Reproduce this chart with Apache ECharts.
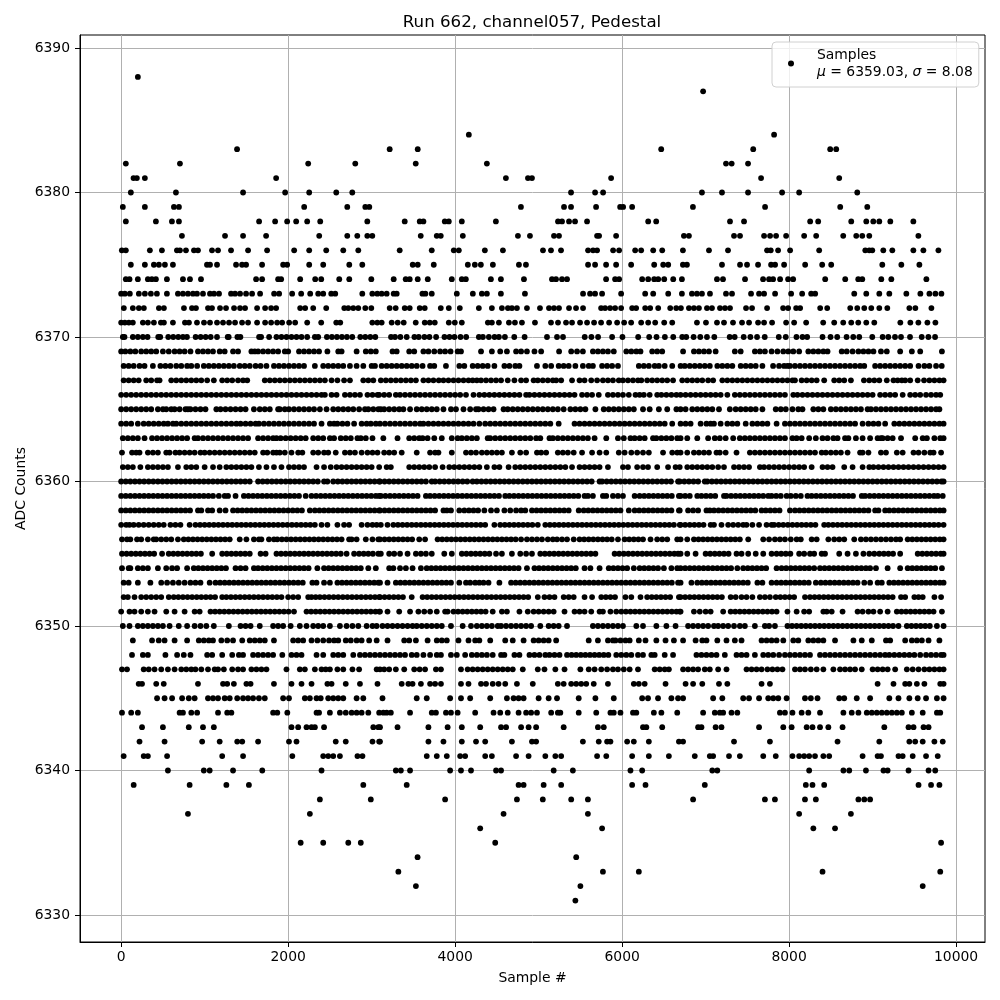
<!DOCTYPE html>
<html><head><meta charset="utf-8">
<style>html,body{margin:0;padding:0;background:#fff}#c{width:1000px;height:1000px}</style>
<script src="https://cdn.jsdelivr.net/npm/echarts@6/dist/echarts.min.js"></script>
</head><body><div id="c"></div>
<script>
// Sample numbers per ADC level. Where marks merge into a solid run,
// the positions inside the run are estimates of where the overlapping marks sit.
const xTicks = [0,2000,4000,6000,8000,10000];
const yTicks = [6330,6340,6350,6360,6370,6380,6390];
const adc6388 = [200];
const adc6387 = [6970];
const adc6384 = [4164,7820];
const adc6383 = [1388,3216,3552,6468,7570,8492,8564];
const adc6382 = [56,704,2240,2804,3528,4380,7244,7312,7508];
const adc6381 = [148,188,284,1856,4608,4872,4920,5868,7664,8600];
const adc6380 = [116,656,1460,1964,2252,2576,2768,5388,5676,5772,6956,7196,7508,7916,8120,8816];
const adc6379 = [20,284,632,692,2192,2708,2924,2972,4788,5304,5388,5688,5976,6012,6120,6848,7712,8612,8936];
const adc6378 = [56,416,608,692,1652,1844,1988,2096,2228,2384,2948,3396,3576,3620,3876,3924,4080,4488,5232,5280,5364,5436,5580,6312,6408,7292,7460,8252,8348,8744,8924,9008,9080,9212,9488];
const adc6377 = [728,1244,1460,1736,2372,2708,2828,2948,3008,3588,3780,3828,4092,4752,4896,5184,5244,5700,5724,5928,6740,6800,7340,7412,7700,7772,7844,7964,8180,8324,8648,8804,8876,8960,9548];
const adc6376 = [8,56,344,488,668,704,776,872,920,1088,1160,1316,1520,1748,2072,2252,2456,2660,2840,3336,3720,3984,4044,4356,4572,5052,5148,5268,5592,5652,5700,5892,5964,6156,6228,6372,6480,6728,7040,7268,7736,7780,7868,8012,8360,8912,8960,8996,9128,9236,9488,9608,9788];
const adc6375 = [116,284,392,452,524,620,1028,1064,1148,1376,1448,1496,1688,1940,1988,2252,2420,2732,2888,3492,3552,3744,4152,4236,4308,4452,4764,4848,5592,5676,5808,5928,6108,6384,6492,6552,6728,6776,7196,7412,7496,7628,7784,7832,7940,8192,8396,8504,9116,9344,9560];
const adc6374 = [56,100,200,320,368,416,548,740,824,956,1616,1688,1880,1916,2144,2324,2396,2612,2732,2996,3264,3408,3456,3552,3672,3960,4080,4128,4428,4548,4824,5160,5208,5280,5340,5808,5916,5964,6240,6312,6384,6432,6504,6612,6716,7136,7208,7472,7688,7760,7808,7892,7988,8048,8432,8672,8828,8876,9104,9224,9644];
const adc6373 = [0,44,104,212,284,356,428,548,680,740,800,860,908,980,1064,1112,1172,1316,1364,1424,1496,1568,1664,1832,1892,2048,2156,2264,2360,2420,2516,2564,2888,3008,3068,3120,3180,3264,3300,3608,3644,3720,4020,4212,4320,4380,4548,4836,5532,5616,5676,5760,5988,6276,6372,6552,6716,6836,6896,6956,7052,7244,7316,7544,7640,7700,7832,8024,8156,8264,8312,8780,8924,9080,9200,9404,9572,9680,9752,9824];
const adc6372 = [32,140,212,272,452,512,752,848,896,1040,1088,1184,1256,1352,1424,1484,1628,1724,1796,1856,2144,2204,2300,2456,2672,2720,2780,2840,2924,2996,3216,3288,3396,3456,3576,3636,3828,3924,4056,4284,4440,4560,4632,4680,4740,4860,5016,5124,5184,5244,5364,5448,5532,5748,5796,5856,5916,5988,6120,6168,6276,6336,6432,6576,6648,6704,6800,6860,6920,7016,7076,7172,7232,7292,7484,7556,7736,7928,7988,8084,8132,8372,8456,8732,8816,8900,8984,9080,9176,9440,9512,9704];
const adc6371 = [0,44,92,140,260,320,392,476,512,620,764,812,908,992,1064,1148,1220,1292,1364,1448,1520,1628,1724,1796,1868,1928,2012,2084,2228,2396,2576,2624,3008,3068,3120,3240,3312,3384,3528,3636,3696,3756,3924,3996,4080,4392,4440,4524,4644,4716,4800,4956,5148,5232,5328,5400,5496,5580,5664,5748,5844,5940,6024,6108,6228,6312,6396,6504,6600,6896,7004,7136,7220,7328,7436,7520,7628,7700,7796,7964,8060,8204,8408,8540,8648,8744,8828,8924,9020,9332,9452,9548,9656,9752];
const adc6370 = [20,40,140,200,260,316,444,468,564,624,684,740,788,892,952,1012,1072,1148,1276,1288,1392,1428,1652,1676,1772,1860,1920,1980,2040,2100,2160,2228,2320,2360,2464,2524,2584,2644,2704,2768,2864,2924,2984,3044,3232,3280,3344,3420,3512,3564,3632,3692,3772,3872,3932,3992,4064,4132,4284,4332,4404,4472,4524,4596,4708,4832,5100,5220,5292,5552,5632,5712,5880,6004,6192,6324,6412,6512,6612,6720,6768,6856,6936,7016,7104,7288,7348,7456,7536,7616,7708,7876,7960,8088,8160,8216,8400,8496,8576,8688,8768,8840,8996,9120,9188,9268,9340,9448,9588,9668,9748];
const adc6369 = [0,50,110,170,240,300,360,420,500,570,640,700,760,830,920,980,1040,1100,1180,1240,1340,1400,1560,1600,1640,1700,1760,1820,1880,1960,2000,2130,2190,2250,2310,2370,2470,2600,2640,2820,2930,2990,3050,3250,3300,3450,3510,3620,3680,3750,3820,3880,3945,4030,4070,4310,4440,4540,4620,4730,4790,4860,4950,5030,5245,5390,5460,5530,5650,5710,5770,5830,5900,6050,6110,6170,6220,6360,6420,6480,6730,6860,6920,6980,7040,7120,7350,7420,7590,7650,7710,7790,7860,7930,7990,8050,8120,8230,8290,8350,8410,8460,8630,8690,8760,8830,8890,8950,9010,9100,9170,9330,9470,9570,9830];
const adc6368 = [30,90,150,220,280,380,470,530,590,660,720,790,840,910,990,1050,1110,1170,1230,1290,1350,1420,1480,1540,1610,1670,1740,1830,1890,1950,2010,2070,2130,2190,2320,2420,2480,2540,2600,2660,2740,2820,2900,3000,3040,3120,3180,3240,3300,3360,3420,3480,3540,3610,3700,3750,3890,4050,4110,4210,4270,4330,4390,4470,4590,4650,4720,4770,4980,5080,5150,5240,5300,5360,5440,5530,5600,5650,5760,5820,5880,5950,6200,6260,6320,6390,6440,6510,6600,6700,6750,6810,6870,6930,6990,7050,7140,7200,7260,7320,7420,7480,7540,7600,7680,7808,7880,7940,7980,8010,8070,8130,8190,8250,8310,8370,8430,8490,8550,8610,8670,8730,8790,8850,8900,9030,9090,9150,9210,9270,9330,9390,9450,9550,9620,9680,9760,9828];
const adc6367 = [30,90,150,210,300,360,430,460,600,660,720,780,840,900,960,1030,1110,1210,1270,1330,1400,1460,1510,1720,1780,1840,1900,1960,2020,2080,2140,2200,2260,2320,2380,2440,2520,2590,2670,2740,2900,2960,3020,3110,3170,3230,3290,3350,3410,3470,3530,3620,3680,3740,3804,3860,3920,3980,4040,4100,4160,4210,4260,4310,4370,4430,4490,4550,4630,4710,4790,4850,4940,4990,5050,5110,5170,5210,5270,5400,5490,5550,5630,5700,5770,5830,5890,5960,6010,6070,6130,6190,6230,6300,6360,6420,6480,6540,6610,6720,6780,6840,6900,6960,7030,7090,7200,7260,7320,7380,7440,7500,7560,7620,7680,7740,7800,7860,7920,7980,8040,8070,8150,8210,8270,8330,8420,8540,8600,8660,8740,8896,8960,9020,9080,9170,9250,9300,9350,9390,9450,9540,9616,9680,9740,9800,9850];
const adc6366 = [0,60,120,180,240,300,360,420,480,540,600,660,720,780,840,900,960,1020,1080,1140,1200,1260,1320,1380,1440,1500,1560,1620,1680,1740,1800,1860,1920,1980,2040,2100,2160,2220,2280,2340,2400,2440,2520,2580,2680,2740,2800,2860,2950,3010,3070,3090,3150,3210,3290,3340,3400,3460,3520,3580,3640,3700,3760,3820,3880,3940,4000,4060,4130,4220,4290,4350,4410,4470,4530,4590,4650,4710,4770,4850,4890,4950,5010,5070,5130,5190,5250,5310,5370,5430,5520,5580,5640,5720,5830,5890,5950,6010,6080,6160,6210,6260,6330,6420,6470,6530,6590,6650,6700,6760,6820,6880,6940,7000,7060,7120,7180,7260,7350,7410,7470,7530,7590,7650,7710,7770,7830,7890,7950,8050,8100,8160,8220,8280,8340,8400,8460,8520,8580,8640,8700,8760,8820,8880,8940,9000,9090,9150,9210,9270,9360,9450,9510,9570,9640,9700,9760,9810];
const adc6365 = [0,60,120,180,240,300,360,440,500,540,600,640,700,770,800,830,890,950,1010,1140,1190,1250,1310,1370,1430,1490,1590,1660,1720,1780,1880,1900,1960,2010,2070,2130,2190,2250,2310,2380,2460,2540,2600,2660,2720,2780,2850,2920,2960,3020,3080,3110,3150,3210,3270,3330,3380,3460,3540,3600,3660,3720,3780,3860,3950,4010,4100,4180,4250,4280,4340,4400,4460,4580,4630,4690,4750,4810,4870,4930,4990,5050,5110,5170,5230,5300,5380,5440,5500,5560,5680,5780,5840,5900,5960,6020,6080,6140,6250,6330,6440,6540,6650,6700,6760,6840,6900,6960,7020,7080,7160,7290,7360,7420,7480,7540,7600,7680,7840,7900,7960,8040,8110,8160,8290,8350,8410,8500,8560,8620,8680,8740,8800,8860,8940,8980,9040,9100,9160,9220,9280,9340,9400,9460,9520,9580,9640,9700,9760,9800];
const adc6364 = [0,60,120,200,270,330,390,450,510,560,620,660,720,780,840,900,960,1020,1080,1140,1200,1260,1320,1380,1430,1490,1550,1610,1650,1710,1770,1830,1890,1950,2010,2070,2130,2190,2250,2310,2400,2500,2550,2590,2650,2710,2790,2880,2940,2990,3050,3100,3160,3220,3280,3340,3400,3460,3520,3580,3620,3680,3740,3800,3860,3920,3980,4040,4100,4160,4220,4290,4360,4420,4480,4540,4600,4660,4720,4780,4840,4900,4960,5020,5080,5140,5240,5430,5490,5550,5610,5670,5730,5790,5850,5910,5970,6030,6090,6150,6210,6270,6330,6390,6450,6510,6600,6700,6760,6820,6940,7010,7060,7100,7180,7260,7320,7380,7480,7560,7620,7680,7740,7850,7950,8010,8070,8130,8190,8250,8310,8370,8430,8490,8550,8610,8670,8730,8790,8880,8950,9010,9070,9150,9260,9320,9380,9440,9500,9560,9620,9680,9740,9800,9850];
const adc6363 = [20,80,140,200,280,370,430,490,550,610,670,730,790,880,920,980,1040,1100,1160,1220,1280,1340,1400,1460,1520,1640,1700,1760,1820,1860,1910,1970,2030,2090,2150,2210,2300,2360,2420,2500,2550,2630,2690,2750,2830,2870,2930,3010,3140,3310,3450,3510,3570,3610,3670,3750,3840,3960,4030,4080,4140,4200,4260,4390,4420,4480,4540,4600,4660,4720,4780,4840,4900,4970,5020,5130,5170,5230,5290,5350,5410,5470,5530,5590,5670,5810,5950,6020,6100,6150,6210,6270,6370,6410,6470,6530,6590,6660,6700,6780,6900,7030,7110,7170,7240,7330,7410,7470,7530,7590,7650,7710,7770,7830,7890,7950,8040,8090,8150,8240,8320,8400,8460,8530,8580,8670,8710,8800,8880,8970,9060,9100,9120,9180,9240,9340,9510,9600,9650,9740,9810,9850];
const adc6362 = [10,130,180,220,320,380,440,540,580,650,700,760,820,880,950,1000,1060,1120,1180,1240,1300,1360,1420,1480,1540,1600,1700,1750,1820,1860,1900,1960,2040,2120,2170,2300,2360,2430,2480,2570,2680,2740,2800,2880,2950,3010,3070,3150,3210,3270,3360,3540,3700,3760,3800,3960,4130,4190,4250,4320,4380,4440,4500,4560,4680,4780,4850,4980,5030,5090,5230,5290,5350,5420,5520,5640,5730,5810,5960,6030,6110,6180,6250,6320,6490,6600,6660,6700,6780,6860,6920,6980,7040,7130,7170,7240,7370,7530,7590,7650,7710,7770,7830,7890,7950,8010,8070,8130,8190,8250,8310,8390,8440,8500,8560,8620,8700,8850,8880,8950,9100,9160,9290,9360,9490,9550,9620,9690,9730,9820];
const adc6361 = [20,80,140,230,320,380,440,500,560,680,780,840,900,1000,1100,1180,1260,1320,1380,1440,1500,1560,1650,1740,1830,1920,2010,2070,2130,2190,2340,2430,2510,2580,2640,2700,2760,2820,2880,2940,3000,3090,3180,3230,3450,3510,3570,3630,3690,3760,3850,3930,3990,4050,4110,4170,4230,4290,4380,4470,4530,4640,4720,4780,4840,4900,4960,5020,5080,5140,5200,5260,5320,5400,5490,5550,5610,5670,5730,5830,6010,6070,6180,6250,6310,6420,6550,6640,6690,6780,6840,6900,6960,7020,7080,7150,7220,7340,7400,7460,7520,7650,7700,7760,7820,7880,7940,8000,8060,8120,8180,8270,8400,8460,8520,8660,8760,8880,8960,9010,9070,9130,9190,9250,9310,9370,9430,9490,9550,9610,9670,9730,9790,9850];
const adc6360 = [0,55,110,165,220,275,330,385,440,495,550,605,660,715,770,825,880,935,990,1045,1100,1155,1210,1265,1320,1375,1430,1485,1540,1640,1695,1750,1805,1860,1915,1970,2025,2080,2135,2190,2245,2300,2355,2430,2470,2540,2595,2650,2705,2760,2815,2870,2925,2980,3035,3090,3100,3155,3210,3265,3320,3375,3430,3485,3540,3595,3650,3720,3760,3815,3870,3925,3980,4035,4090,4145,4210,4260,4315,4370,4425,4480,4535,4590,4645,4700,4755,4810,4865,4920,4975,5030,5085,5140,5195,5250,5305,5360,5415,5470,5525,5580,5635,5730,5760,5815,5870,5925,5980,6035,6090,6145,6200,6255,6310,6365,6420,6475,6530,6585,6670,6690,6745,6800,6855,6910,6990,7020,7075,7130,7185,7240,7295,7350,7405,7460,7515,7570,7625,7680,7735,7790,7845,7900,7955,8010,8065,8120,8175,8230,8285,8340,8395,8450,8505,8560,8615,8670,8725,8780,8835,8890,8945,9000,9055,9110,9165,9220,9275,9330,9385,9440,9495,9550,9605,9660,9715,9770,9825,9850];
const adc6359 = [0,55,110,165,220,275,330,385,440,495,550,605,660,715,770,825,880,935,990,1045,1100,1170,1240,1280,1370,1470,1525,1580,1635,1690,1745,1800,1855,1910,1965,2020,2075,2130,2210,2280,2335,2390,2445,2500,2555,2610,2665,2720,2775,2830,2885,2940,2995,3050,3090,3110,3165,3220,3275,3330,3385,3440,3495,3550,3650,3700,3755,3810,3865,3920,3975,4030,4085,4140,4195,4250,4305,4360,4415,4470,4525,4600,4650,4705,4760,4815,4870,4925,4980,5035,5090,5145,5200,5255,5310,5365,5420,5475,5550,5590,5650,5770,5810,5890,5950,6010,6150,6210,6265,6320,6375,6430,6485,6540,6595,6680,6700,6755,6810,6900,6950,7005,7060,7115,7220,7250,7305,7360,7415,7470,7525,7580,7635,7690,7750,7790,7845,7900,7970,8020,8080,8140,8220,8270,8325,8380,8435,8490,8545,8600,8655,8710,8765,8870,8910,8965,9020,9075,9130,9185,9240,9295,9350,9405,9460,9515,9570,9625,9680,9735,9780,9840];
const adc6358 = [0,55,110,165,220,275,330,385,440,495,550,605,660,715,770,825,920,960,1040,1090,1180,1250,1340,1395,1450,1505,1560,1615,1670,1725,1780,1835,1890,1945,2000,2055,2110,2165,2260,2320,2375,2430,2485,2540,2595,2650,2705,2760,2815,2870,2925,2980,3035,3090,3100,3155,3210,3265,3320,3375,3430,3485,3540,3595,3650,3705,3760,3860,3900,3950,4050,4110,4165,4220,4275,4350,4430,4500,4590,4660,4730,4790,4840,4920,4975,5030,5085,5140,5195,5250,5305,5360,5480,5540,5595,5650,5705,5760,5815,5870,5925,5980,6080,6150,6205,6260,6315,6370,6425,6480,6535,6590,6680,6690,6790,6850,6910,7010,7050,7100,7155,7210,7265,7320,7375,7430,7485,7540,7595,7670,7720,7775,7830,7885,8010,8070,8125,8180,8235,8290,8345,8400,8455,8510,8565,8620,8675,8730,8785,8840,8895,8950,9030,9070,9150,9200,9255,9310,9365,9420,9475,9530,9585,9640,9695,9750,9805,9850];
const adc6357 = [0,60,100,150,210,270,330,390,450,510,590,650,710,820,890,945,1000,1055,1110,1165,1220,1275,1330,1385,1440,1495,1550,1605,1660,1715,1770,1825,1880,1935,1990,2045,2100,2155,2210,2265,2320,2400,2470,2590,2670,2730,2880,2950,3010,3060,3110,3190,3260,3315,3370,3425,3480,3535,3590,3645,3700,3755,3810,3865,3920,3975,4030,4085,4140,4195,4250,4305,4360,4470,4540,4595,4650,4705,4760,4815,4870,4925,4990,5080,5135,5190,5245,5300,5355,5410,5465,5520,5575,5630,5685,5740,5795,5850,5905,5960,6015,6070,6125,6180,6235,6290,6345,6400,6455,6510,6565,6620,6690,6700,6755,6810,6865,6920,6975,7060,7100,7190,7270,7330,7390,7450,7490,7560,7640,7730,7790,7820,7875,7930,7985,8040,8095,8150,8205,8260,8315,8420,8470,8525,8580,8635,8690,8745,8800,8855,8910,8965,9020,9075,9130,9185,9240,9295,9350,9405,9460,9515,9570,9625,9680,9735,9790,9850];
const adc6356 = [10,70,110,190,240,320,390,420,480,540,600,680,750,805,860,915,970,1025,1080,1135,1190,1245,1300,1420,1500,1590,1650,1680,1770,1830,1870,1925,1980,2035,2090,2145,2200,2255,2310,2365,2420,2475,2530,2585,2640,2730,2760,2820,2930,3010,3080,3100,3155,3210,3265,3320,3375,3430,3485,3570,3640,3790,3845,3900,3955,4010,4065,4120,4175,4230,4285,4340,4395,4450,4505,4560,4615,4670,4725,4790,4860,4920,4980,5040,5110,5170,5220,5280,5340,5420,5490,5545,5600,5655,5710,5765,5820,5875,5950,6030,6085,6140,6195,6250,6340,6420,6480,6540,6660,6700,6780,6860,6915,6970,7025,7080,7135,7190,7245,7300,7355,7410,7510,7690,7760,7830,7890,7950,8020,8090,8140,8270,8330,8470,8540,8600,8660,8780,8860,8920,8980,9040,9100,9160,9220,9280,9330,9420,9475,9530,9585,9640,9695,9750,9805,9850];
const adc6355 = [10,65,120,175,230,285,340,395,490,570,625,680,735,790,845,900,955,1090,1210,1265,1320,1375,1430,1485,1540,1670,1730,1860,1915,1970,2025,2080,2135,2190,2245,2300,2355,2410,2465,2520,2575,2630,2700,2790,2850,2905,2960,3015,3080,3110,3210,3270,3340,3430,3530,3590,3650,3720,3870,3960,4080,4135,4190,4245,4300,4355,4410,4490,4560,4680,4780,4850,4920,5020,5075,5130,5185,5240,5295,5350,5405,5460,5515,5570,5625,5680,5910,5965,6020,6075,6130,6185,6240,6295,6350,6405,6460,6515,6570,6625,6670,6700,6780,6880,7000,7055,7110,7165,7220,7275,7370,7430,7510,7600,7690,7790,7850,7905,7960,8015,8120,8180,8250,8300,8390,8430,8600,8700,8800,8890,8960,9020,9080,9135,9190,9245,9330,9540,9595,9650,9705,9760,9815,9850];
const adc6354 = [10,90,110,200,260,320,440,540,610,670,790,870,925,980,1035,1090,1145,1200,1255,1370,1430,1490,1590,1640,1695,1750,1805,1860,1915,1970,2025,2080,2135,2190,2245,2350,2430,2485,2540,2595,2650,2705,2760,2815,2870,2960,3050,3210,3260,3340,3410,3490,3590,3660,3715,3770,3825,3880,3935,3990,4045,4100,4155,4210,4265,4320,4375,4430,4485,4540,4595,4650,4705,4760,4860,4950,5005,5060,5115,5170,5225,5280,5335,5390,5445,5550,5620,5730,5840,5895,5950,6005,6060,6140,6210,6265,6320,6375,6430,6500,6590,6660,6700,6755,6810,6865,6920,6975,7030,7085,7140,7195,7250,7305,7380,7450,7505,7560,7615,7670,7725,7850,7910,7965,8020,8075,8130,8185,8240,8300,8370,8425,8480,8535,8590,8645,8700,8755,8810,8865,8920,8970,9040,9180,9330,9420,9475,9530,9585,9640,9695,9750,9830];
const adc6353 = [30,90,200,350,480,550,620,690,760,830,890,950,1060,1130,1185,1240,1295,1350,1405,1460,1515,1570,1625,1680,1735,1790,1845,1900,1955,2010,2065,2120,2175,2290,2340,2430,2500,2590,2645,2700,2755,2810,2865,2920,2975,3030,3080,3100,3190,3290,3345,3400,3455,3510,3565,3620,3675,3730,3785,3840,3895,3950,4050,4130,4180,4240,4290,4340,4400,4530,4670,4725,4780,4835,4890,4945,5000,5055,5110,5165,5220,5275,5330,5385,5440,5495,5550,5605,5660,5715,5770,5825,5880,5935,5990,6045,6100,6155,6210,6265,6320,6375,6430,6485,6540,6595,6670,6700,6830,6900,6955,7010,7065,7120,7175,7230,7285,7340,7395,7450,7505,7620,7680,7790,7850,7905,7960,8015,8070,8125,8180,8235,8320,8380,8435,8490,8545,8600,8655,8710,8765,8820,8900,8970,9060,9110,9200,9255,9310,9365,9420,9475,9530,9585,9640,9695,9750,9805,9850];
const adc6352 = [30,80,160,240,300,360,420,480,570,630,685,740,795,850,905,960,1015,1070,1125,1210,1260,1315,1370,1425,1480,1535,1590,1645,1700,1755,1810,1865,1920,2000,2060,2120,2240,2280,2330,2380,2435,2490,2545,2600,2655,2710,2765,2820,2875,2930,2985,3040,3090,3100,3155,3210,3265,3320,3375,3480,3610,3665,3720,3775,3830,3885,3940,3995,4050,4105,4160,4215,4270,4325,4380,4435,4490,4545,4600,4655,4710,4765,4820,4875,4990,5070,5130,5190,5300,5360,5420,5550,5640,5750,5805,5860,5915,6040,6110,6220,6300,6355,6410,6465,6520,6575,6680,6700,6755,6810,6865,6920,6975,7030,7085,7140,7195,7300,7360,7430,7490,7560,7650,7710,7770,7840,7895,7950,8005,8060,8190,8250,8305,8360,8415,8470,8525,8580,8635,8690,8745,8800,8855,8910,8965,9020,9075,9130,9185,9240,9340,9390,9500,9550,9600,9740,9820];
const adc6351 = [0,100,160,240,320,400,540,640,760,880,940,1070,1125,1180,1235,1290,1345,1400,1455,1510,1565,1620,1675,1730,1785,1840,1895,1950,2005,2070,2220,2275,2330,2385,2440,2495,2550,2605,2660,2715,2770,2825,2880,2935,2990,3045,3090,3100,3190,3330,3460,3560,3630,3700,3780,3880,3910,3980,4035,4090,4145,4200,4255,4310,4365,4450,4560,4620,4770,4870,4940,5000,5060,5120,5180,5310,5430,5490,5550,5630,5730,5770,5860,5930,5990,6045,6100,6155,6210,6265,6320,6375,6430,6485,6540,6595,6650,6690,6700,6860,6930,7000,7060,7210,7300,7355,7410,7465,7520,7575,7630,7685,7740,7795,7850,7980,8090,8180,8240,8410,8450,8510,8640,8820,8880,8950,9010,9090,9180,9290,9345,9400,9455,9510,9565,9620,9675,9730,9830];
const adc6350 = [20,100,200,260,320,380,440,500,580,690,790,880,950,1020,1110,1290,1430,1490,1550,1660,1820,1880,1940,2030,2140,2220,2300,2360,2420,2500,2620,2700,2770,2840,2940,3010,3060,3130,3190,3250,3310,3370,3430,3490,3540,3600,3660,3720,3780,3840,3950,4090,4190,4260,4320,4380,4440,4510,4550,4610,4670,4730,4790,4850,4910,5020,5120,5180,5240,5340,5650,5710,5770,5830,5890,5950,6010,6170,6250,6410,6530,6640,6790,6850,6910,6970,7030,7100,7150,7210,7270,7340,7410,7470,7590,7710,7760,7830,7980,8035,8090,8145,8200,8255,8310,8365,8420,8475,8530,8585,8640,8695,8750,8805,8860,8915,8970,9025,9080,9135,9190,9245,9310,9410,9465,9520,9575,9630,9685,9770,9850];
const adc6349 = [140,370,450,520,640,790,930,990,1050,1100,1200,1270,1340,1450,1540,1600,1660,1720,1830,2060,2120,2180,2280,2350,2420,2490,2550,2600,2690,2750,2820,2880,2970,3060,3190,3390,3450,3530,3670,3780,3840,3900,4040,4160,4240,4290,4420,4600,4690,4820,4940,5000,5060,5120,5210,5600,5710,5830,5890,5920,5980,6040,6090,6200,6280,6410,6520,6620,6730,6880,6960,7010,7140,7250,7350,7430,7670,7730,7790,7850,7930,8050,8110,8230,8290,8350,8410,8550,8770,8870,8990,9160,9210,9390,9470,9530,9590,9670,9800];
const adc6348 = [130,260,320,530,670,750,830,1030,1090,1210,1330,1410,1460,1580,1640,1700,1760,1820,1930,2040,2100,2160,2340,2420,2540,2600,2660,2780,2860,2920,2980,3040,3100,3160,3220,3280,3340,3400,3480,3540,3620,3700,3780,3830,3950,4020,4120,4200,4260,4320,4380,4450,4550,4590,4710,4770,4890,4950,5010,5080,5130,5190,5250,5340,5395,5450,5505,5560,5615,5670,5725,5780,5835,5930,5990,6050,6110,6190,6250,6350,6390,6510,6610,6890,6950,7010,7070,7130,7230,7370,7430,7490,7590,7690,7750,7810,7880,7950,8010,8070,8130,8190,8250,8370,8430,8490,8550,8610,8670,8730,8790,8850,8910,8970,9030,9090,9150,9200,9260,9320,9380,9440,9500,9570,9640,9700,9760,9820,9850];
const adc6347 = [10,70,270,330,400,480,560,640,720,780,840,890,960,1040,1120,1160,1230,1330,1400,1460,1560,1620,1680,1740,1980,2140,2200,2320,2400,2450,2500,2590,2660,2770,2850,3060,3100,3150,3210,3290,3390,3510,3575,3640,3770,3830,4070,4150,4210,4270,4330,4390,4450,4510,4570,4630,4690,4810,4990,5070,5200,5310,5500,5600,5670,5750,5820,5890,5950,6020,6090,6190,6390,6450,6510,6560,6730,6790,6850,6910,6990,7050,7150,7250,7490,7550,7610,7670,7740,7800,7860,7920,8070,8130,8190,8260,8330,8410,8530,8610,8670,8730,8790,8870,9000,9060,9120,9180,9270,9410,9480,9550,9620,9680,9740,9800,9850];
const adc6346 = [210,250,420,510,920,1220,1270,1350,1500,1550,1830,2040,2160,2280,2470,2520,2690,2860,3070,3360,3440,3490,3590,3700,3760,3830,4070,4160,4310,4370,4450,4520,4600,4740,4930,5230,5300,5390,5450,5510,5570,5660,5830,6140,6200,6270,6520,6760,6850,6960,7160,7260,7670,7770,9060,9250,9390,9440,9530,9620,9810,9850];
const adc6345 = [430,520,610,730,810,880,1040,1100,1160,1240,1300,1390,1460,1520,1580,1650,1720,1940,2010,2200,2260,2340,2390,2480,2540,2600,2660,2820,2900,3130,3540,3660,3940,4070,4180,4420,4620,4700,4760,4820,5000,5120,5220,5480,5680,5900,6240,6310,6430,6590,6670,6730,7090,7200,7450,7520,7640,7750,7810,7870,7970,8190,8260,8340,8600,8660,8810,8970,9200,9310,9440,9540,9640,9770,9850];
const adc6344 = [10,120,200,700,740,840,910,1160,1270,1320,1820,1870,1990,2340,2370,2500,2620,2690,2760,2820,2880,2960,3090,3140,3180,3230,3460,3720,3770,3890,3950,4030,4240,4460,4540,4630,4760,4850,4910,4980,5150,5230,5260,5480,5690,5860,5900,5980,6130,6170,6380,6470,6660,6970,7110,7170,7210,7310,7380,7890,7950,8040,8150,8230,8370,8650,8750,8830,8930,8990,9050,9110,9170,9230,9290,9350,9470,9600,9770,9810];
const adc6343 = [250,500,810,980,1110,2040,2120,2220,2280,2320,2430,3020,3080,3100,3310,3680,3910,4080,4300,4550,4610,4790,4880,4970,5300,5710,5780,6250,6290,6480,6910,6950,7120,7190,7640,7930,8030,8210,8280,8370,8470,8640,9140,9430,9490,9610,9670];
const adc6342 = [220,520,970,1180,1390,1450,1640,2010,2100,2570,2690,3010,3090,3100,3680,3860,4080,4250,4360,4680,4920,4970,5530,5720,5820,5860,6060,6140,6320,6680,6730,7340,7770,8580,9080,9440,9510,9600,9740,9840];
const adc6341 = [30,270,320,550,1210,1460,2050,2420,2480,2540,2620,2830,2890,3660,3780,3900,4060,4120,4360,4440,4730,4880,5080,5200,5270,5700,5810,6120,6320,6560,6870,7050,7090,7280,7410,7690,7840,8040,8120,8180,8240,8310,8410,8480,8880,9060,9100,9310,9360,9480,9640,9780];
const adc6340 = [560,990,1060,1340,1690,2400,3290,3350,3460,3940,4070,4190,4490,4550,5180,5410,6100,6240,7080,7140,8240,8650,8720,8920,9130,9180,9430,9670,9750];
const adc6339 = [150,820,1260,1530,2900,3420,4760,4820,5060,5270,6120,6280,6990,8200,8280,8420,9550,9700,9800];
const adc6338 = [2380,2990,3880,4740,5050,5390,5590,6850,7710,7830,8190,8320,8830,8900,8970];
const adc6337 = [800,2260,4580,5590,8120,8740];
const adc6336 = [4300,5760,8290,8550];
const adc6335 = [2150,2420,2720,2870,4480,9820];
const adc6334 = [3550,5450];
const adc6333 = [3320,5770,6200,8400,9810];
const adc6332 = [3530,5500,9600];
const adc6331 = [5440];

const rows = [[6388,adc6388],[6387,adc6387],[6384,adc6384],[6383,adc6383],[6382,adc6382],[6381,adc6381],[6380,adc6380],[6379,adc6379],[6378,adc6378],[6377,adc6377],[6376,adc6376],[6375,adc6375],[6374,adc6374],[6373,adc6373],[6372,adc6372],[6371,adc6371],[6370,adc6370],[6369,adc6369],[6368,adc6368],[6367,adc6367],[6366,adc6366],[6365,adc6365],[6364,adc6364],[6363,adc6363],[6362,adc6362],[6361,adc6361],[6360,adc6360],[6359,adc6359],[6358,adc6358],[6357,adc6357],[6356,adc6356],[6355,adc6355],[6354,adc6354],[6353,adc6353],[6352,adc6352],[6351,adc6351],[6350,adc6350],[6349,adc6349],[6348,adc6348],[6347,adc6347],[6346,adc6346],[6345,adc6345],[6344,adc6344],[6343,adc6343],[6342,adc6342],[6341,adc6341],[6340,adc6340],[6339,adc6339],[6338,adc6338],[6337,adc6337],[6336,adc6336],[6335,adc6335],[6334,adc6334],[6333,adc6333],[6332,adc6332],[6331,adc6331]];
const points = [];
rows.forEach(function(r){ r[1].forEach(function(x){ points.push([x, r[0]]); }); });

const FONT = '"DejaVu Sans"';
const chart = echarts.init(document.getElementById('c'), null, {renderer:'canvas'});
const axisCommon = {
  type:'value', scale:true, nameLocation:'middle', nameMoveOverlap:false,
  nameTextStyle:{fontFamily:FONT,fontSize:13.9,color:'#000'},
  axisLine:{show:true,onZero:false,lineStyle:{color:'#000',width:1}},
  axisTick:{show:true,inside:false,length:5,lineStyle:{color:'#000',width:1}},
  axisLabel:{show:true,fontFamily:FONT,fontSize:13.9,color:'#000',hideOverlap:false,showMinLabel:true,showMaxLabel:true},
  splitLine:{show:true,lineStyle:{color:'#b0b0b0',width:1}}
};
function axis(extra, ticks, margin){
  const a = Object.assign({}, axisCommon, extra);
  a.axisTick = Object.assign({}, axisCommon.axisTick, {customValues:ticks});
  a.axisLabel = Object.assign({}, axisCommon.axisLabel, {margin:margin, customValues:ticks, formatter:function(v){return String(v);}});
  return a;
}
chart.setOption({
  animation:false,
  backgroundColor:'#fff',
  title:{text:'Run 662, channel057, Pedestal',left:527,top:9,textAlign:'center',
    textStyle:{fontFamily:FONT,fontSize:16.67,fontWeight:'normal',color:'#000'}},
  grid:{left:80,top:35,width:905,height:907,show:true,borderColor:'#000',borderWidth:1,containLabel:false},
  xAxis:axis({name:'Sample #',nameGap:29,min:-493,max:10346},xTicks,8),
  yAxis:axis({name:'ADC Counts',nameGap:52,nameRotate:90,min:6328.13,max:6390.9},yTicks,10),
  legend:{show:true,left:772,top:42,orient:'vertical',padding:[6,6,8,16],
    itemWidth:6,itemHeight:6,icon:'circle',
    backgroundColor:'rgba(255,255,255,0.8)',borderColor:'#d0d0d0',borderWidth:1,borderRadius:4,
    data:[{name:'Samples'}],
    formatter:function(){return '{s|}{t|Samples}\n{s|}{i|μ}{t| = 6359.03, }{i|σ}{t| = 8.08}';},
    textStyle:{fontFamily:FONT,fontSize:13.9,color:'#000',
      rich:{s:{width:18,lineHeight:17},t:{fontFamily:FONT,fontSize:13.9,color:'#000',lineHeight:17},
            i:{fontFamily:FONT,fontStyle:'italic',fontSize:13.9,color:'#000',lineHeight:17}}}
  },
  series:[{type:'scatter',name:'Samples',data:points,symbol:'circle',symbolSize:5.8,
    itemStyle:{color:'#000',opacity:1},silent:true,clip:true,large:false,progressive:0}]
});
</script></body></html>
